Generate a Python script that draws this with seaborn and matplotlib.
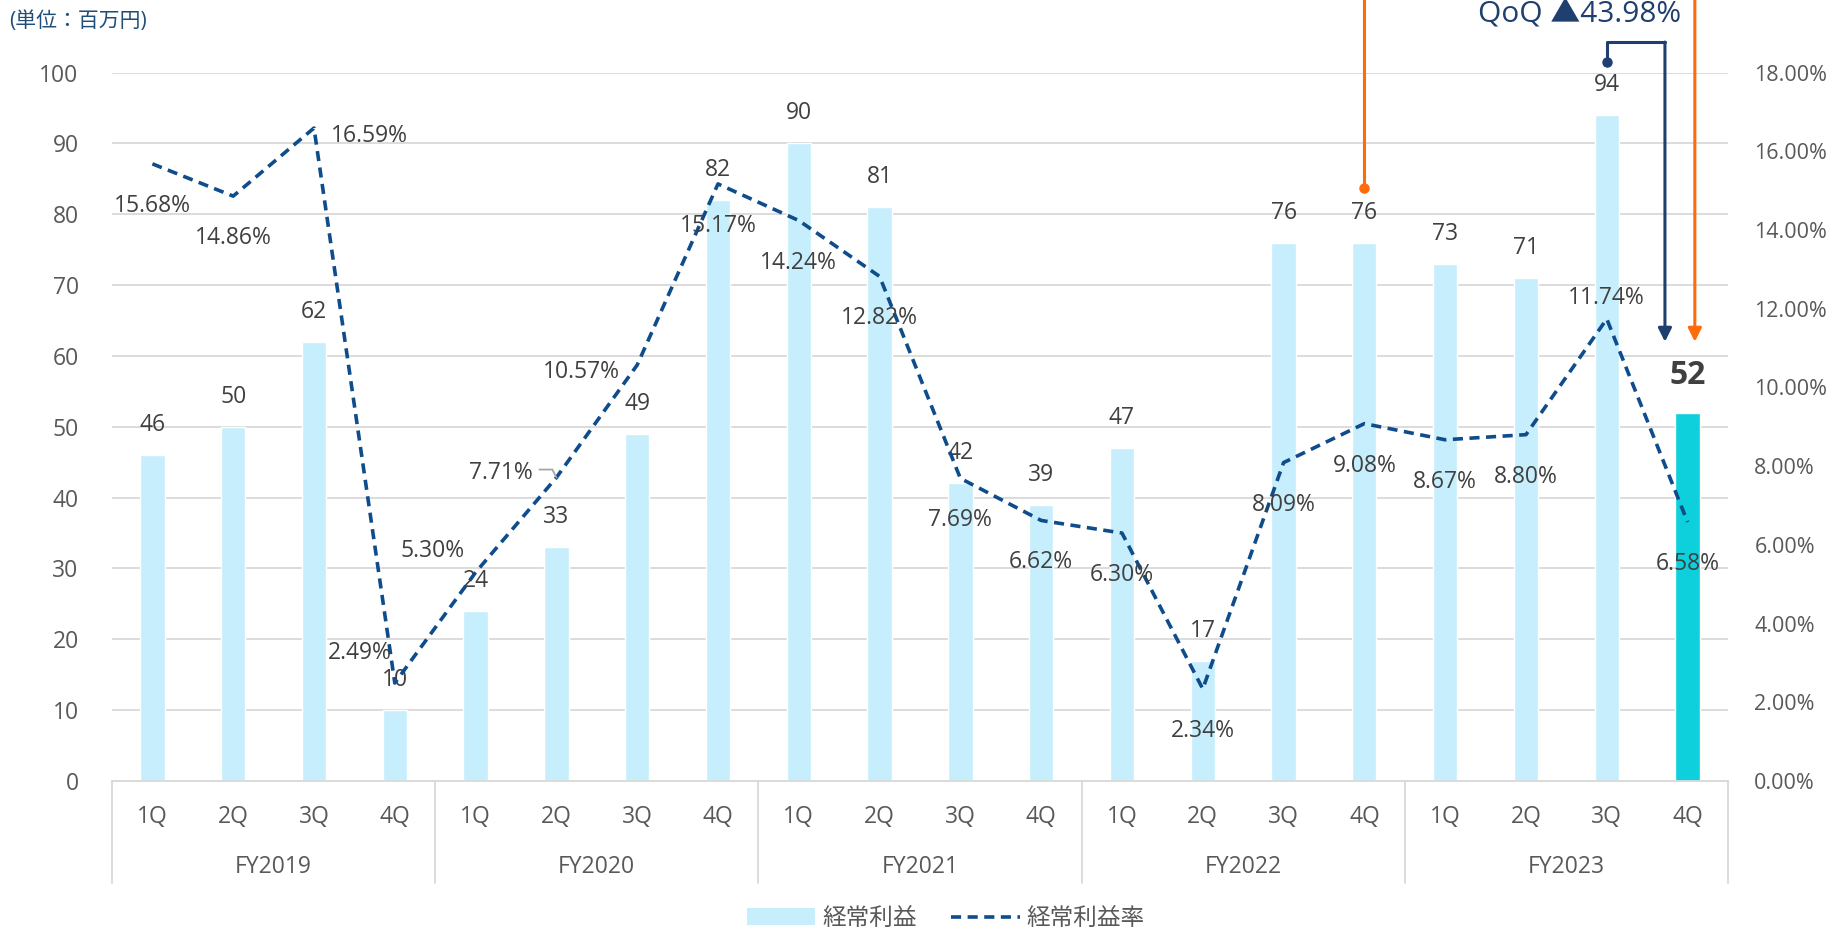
import numpy as np
import pandas as pd
import seaborn as sns
import matplotlib
matplotlib.use("Agg")
import matplotlib.pyplot as plt
from matplotlib.lines import Line2D
from matplotlib.patches import Patch


fiscal_years = ["FY2019", "FY2020", "FY2021", "FY2022", "FY2023"]
quarters = ["1Q", "2Q", "3Q", "4Q"]
ordinary_profit = [46, 50, 62, 10, 24, 33, 49, 82, 90, 81, 42, 39, 47, 17, 76, 76, 73, 71, 94, 52]
profit_margin = [15.68, 14.86, 16.59, 2.49, 5.30, 7.71, 10.57, 15.17, 14.24, 12.82,
                 7.69, 6.62, 6.30, 2.34, 8.09, 9.08, 8.67, 8.80, 11.74, 6.58]
unit_label = "(単位：百万円)"
qoq_label = "QoQ ▲43.98%"
legend_labels = ["経常利益", "経常利益率"]

BAR_COLOR = "#C6EEFC"
HIGHLIGHT = "#0DD0DC"
LINE_COLOR = "#0F4C8C"
ORANGE = "#FF6A0A"
NAVY = "#1F3F6E"
TEXT = "#404040"
TICK = "#595959"
GRID = "#D9D9D9"
FS = 16.5

# label offsets (pixels) for the margin labels, mimic excel placement
below = (0, -42)
margin_offsets = [below, below, (55, -8), (-35, 30), (-43, 21), (-56, 5), (-56, -7), below,
                  below, below, below, below, below, below, below, below, below, below,
                  (0, 21), below]

sns.set_theme(style="white")
plt.rcParams['font.family'] = ['Open Sans', 'Noto Sans CJK JP', 'DejaVu Sans']

n = len(ordinary_profit)
df = pd.DataFrame({
    "period": [f"{fy} {q}" for fy in fiscal_years for q in quarters],
    "profit": ordinary_profit,
    "margin": profit_margin,
    "pos": np.arange(n),
})
colors = [BAR_COLOR] * (n - 1) + [HIGHLIGHT]

fig = plt.figure(figsize=(18.33, 9.30), dpi=100)
ax = fig.add_axes([0.0611, 0.1602, 0.8816, 0.7618])
ax2 = ax.twinx()

sns.barplot(data=df, x="period", y="profit", hue="period", palette=colors, legend=False,
            width=0.30, saturation=1, ax=ax, zorder=2)
ax.set_xlim(-0.5, n - 0.5)
ax.set_ylim(0, 100)
ax.set_yticks(range(0, 101, 10))
ax.yaxis.grid(True, color=GRID, lw=1.3)
ax.set_axisbelow(True)
ax.set_xlabel("")
ax.set_ylabel("")
ax.set_xticks([])
ax.tick_params(axis="y", length=0, pad=24, labelsize=FS, labelcolor=TICK)
for s in ["left", "right", "top"]:
    ax.spines[s].set_visible(False)
ax.spines["bottom"].set_color(GRID)
ax.spines["bottom"].set_linewidth(1.3)

sns.lineplot(data=df, x="pos", y="margin", ax=ax2, color=LINE_COLOR, lw=2.6,
             dashes=False, zorder=3)
ax2.lines[0].set_dashes([2.8, 1.8])
ax2.set_ylim(0, 18)
ax2.set_yticks(np.arange(0, 18.1, 2))
ax2.set_yticklabels([f"{v:.2f}%" for v in np.arange(0, 18.1, 2)])
ax2.set_xlim(-0.5, n - 0.5)
ax2.set_xlabel("")
ax2.set_ylabel("")
ax2.tick_params(axis="y", length=0, pad=19, labelsize=15.5, labelcolor=TICK)
for s in ax2.spines.values():
    s.set_visible(False)

px = 72 / fig.dpi

# bar value labels
for i, v in enumerate(ordinary_profit):
    last = i == n - 1
    ax.annotate(str(v), (i, v), xytext=(0, (37 if last else 30) * px), textcoords="offset points",
                ha="center", va="center", fontsize=23 if last else FS,
                fontweight="bold" if last else "normal", color=TEXT, zorder=5)

# margin labels
for i, (v, off) in enumerate(zip(profit_margin, margin_offsets)):
    ax2.annotate(f"{v:.2f}%", (i, v), xytext=(off[0] * px, off[1] * px), textcoords="offset points",
                 ha="center", va="center", fontsize=FS, color=TEXT, zorder=5)

# leader line of the 7.71% label
pt = ax2.transData.transform((5, profit_margin[5]))
ax2.plot([pt[0] - 17, pt[0] - 4, pt[0]], [pt[1] + 8, pt[1] + 8, pt[1]],
         transform=None, color="#A6A6A6", lw=1.3, zorder=4)

# two level category axis
tr = ax.get_xaxis_transform()
for i in range(n):
    ax.text(i, -0.051, quarters[i % 4], transform=tr, ha="center", va="center",
            fontsize=FS, color=TICK)
for k, fy in enumerate(fiscal_years):
    ax.text(4 * k + 1.5, -0.121, fy, transform=tr, ha="center", va="center",
            fontsize=FS, color=TICK)
for k in range(len(fiscal_years) + 1):
    ax.plot([4 * k - 0.5] * 2, [0, -0.144], transform=tr, color=GRID, lw=1.3, clip_on=False)

# QoQ annotation
ax.plot([15, 15], [83.7, 118], color=ORANGE, lw=2.2, clip_on=False, zorder=6)
ax.plot([15], [83.7], marker="o", ms=6.5, color=ORANGE, clip_on=False, zorder=6)
ax.annotate("", xy=(19.09, 62), xytext=(19.09, 118), annotation_clip=False,
            arrowprops=dict(arrowstyle="-|>", color=ORANGE, lw=2.2, mutation_scale=20,
                            shrinkA=0, shrinkB=0), zorder=6)
ax.plot([18, 18, 18.72], [101.5, 104.3, 104.3], color=NAVY, lw=2.2, clip_on=False, zorder=6)
ax.plot([18], [101.5], marker="o", ms=6.5, color=NAVY, clip_on=False, zorder=6)
ax.annotate("", xy=(18.72, 62), xytext=(18.72, 104.3), annotation_clip=False,
            arrowprops=dict(arrowstyle="-|>", color=NAVY, lw=2.2, mutation_scale=20,
                            shrinkA=0, shrinkB=0), zorder=6)
ax.text(17.66, 108.1, qoq_label, ha="center", va="center", fontsize=21.5, color=NAVY,
        clip_on=False, zorder=6)

fig.text(0.005, 0.977, unit_label, ha="left", va="center", fontsize=15, color="#1F4E79")

handles = [Patch(facecolor=BAR_COLOR, edgecolor="none"),
           Line2D([], [], color=LINE_COLOR, lw=2.6, dashes=[2.8, 1.8])]
fig.legend(handles, legend_labels, loc="center", bbox_to_anchor=(0.516, 0.012), ncol=2,
           frameon=False, fontsize=17, handlelength=2.9, handletextpad=0.3,
           columnspacing=1.45, labelcolor=TICK)

fig.savefig("out.png", dpi=100)
